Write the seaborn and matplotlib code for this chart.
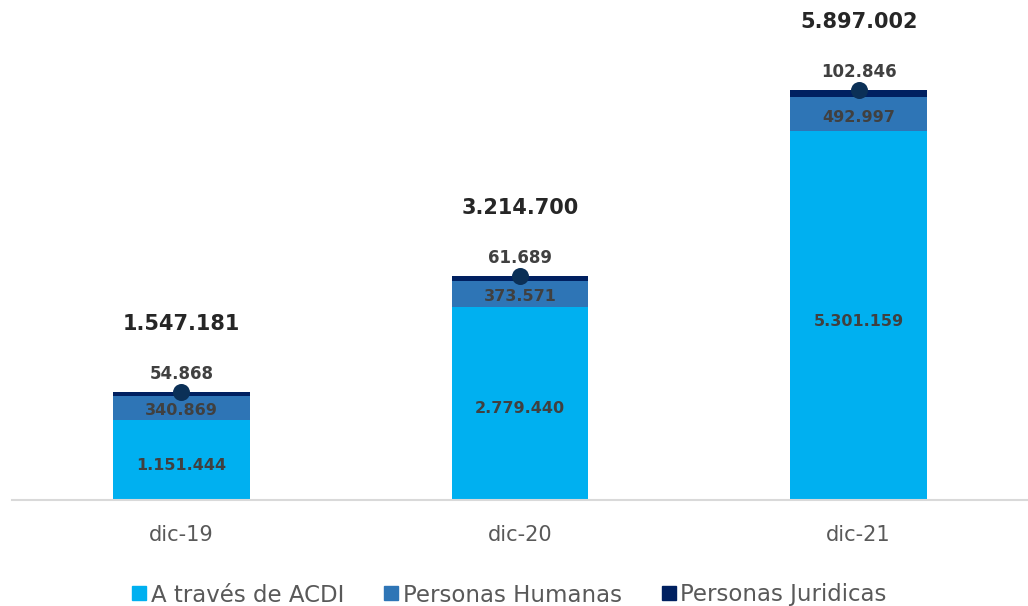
import matplotlib
matplotlib.use("Agg")
import matplotlib.pyplot as plt
from matplotlib.lines import Line2D
import seaborn as sns
import numpy as np
import pandas as pd

categories = ["dic-19", "dic-20", "dic-21"]
acdi = [1151444, 2779440, 5301159]
humanas = [340869, 373571, 492997]
juridicas = [54868, 61689, 102846]
totals = [1547181, 3214700, 5897002]
series_names = ["A través de ACDI", "Personas Humanas", "Personas Juridicas"]
colors = ["#00B0F0", "#2E75B6", "#002060"]

def fmt(v):
    return f"{v:,}".replace(",", ".")

sns.set_theme(style="white")
plt.rcParams['font.family'] = ['DejaVu Sans']

fig = plt.figure(figsize=(10.28, 6.06), dpi=100)
ax = fig.add_axes([12/1028, 106/606, 1016/1028, 500/606])

df = pd.DataFrame({"cat": categories, "acdi": acdi, "humanas": humanas, "jur": juridicas})
df["c2"] = df["acdi"] + df["humanas"]
df["c3"] = df["c2"] + df["jur"]

width = 0.404
sns.barplot(data=df, x="cat", y="c3", color=colors[2], width=width, ax=ax, saturation=1, linewidth=0)
sns.barplot(data=df, x="cat", y="c2", color=colors[1], width=width, ax=ax, saturation=1, linewidth=0)
sns.barplot(data=df, x="cat", y="acdi", color=colors[0], width=width, ax=ax, saturation=1, linewidth=0)

xs = np.arange(len(categories))
ax.scatter(xs, df["c3"], s=150, color="#0B3057", zorder=5, linewidths=0)

ax.set_xlim(-0.5, 2.5)
ax.set_ylim(0, 500 * 14383)

lab_col = "#404040"
for i in range(len(categories)):
    a = acdi[i]; h = humanas[i]; j = juridicas[i]; t = totals[i]
    ax.annotate(fmt(a), (i, a / 2), xytext=(0, -4), textcoords="offset points",
                ha="center", va="center", fontsize=11.5, fontweight="bold", color=lab_col)
    ax.annotate(fmt(h), (i, a + h / 2), xytext=(0, -2), textcoords="offset points",
                ha="center", va="center", fontsize=11.5, fontweight="bold", color=lab_col)
    ax.annotate(fmt(j), (i, t), xytext=(0, 13), textcoords="offset points",
                ha="center", va="center", fontsize=12, fontweight="bold", color=lab_col)
    ax.annotate(fmt(t), (i, t), xytext=(0, 49), textcoords="offset points",
                ha="center", va="center", fontsize=15, fontweight="bold", color="#262626")

ax.set_xlabel("")
ax.set_ylabel("")
ax.set_yticks([])
for s in ["top", "left", "right"]:
    ax.spines[s].set_visible(False)
ax.spines["bottom"].set_color("#D9D9D9")
ax.spines["bottom"].set_linewidth(1.5)
ax.tick_params(axis="x", length=0, pad=18, labelsize=15, labelcolor="#595959")

handles = [Line2D([0], [0], marker="s", linestyle="none", markersize=10,
                  markerfacecolor=c, markeredgecolor=c) for c in colors]
fig.legend(handles, series_names, loc="center", bbox_to_anchor=(509/1028, 1 - 595/606),
           ncol=3, frameon=False, fontsize=16.5, labelcolor="#595959",
           handletextpad=0.15, columnspacing=1.7, handlelength=0.7, borderpad=0)

fig.savefig("out.png", dpi=100)
